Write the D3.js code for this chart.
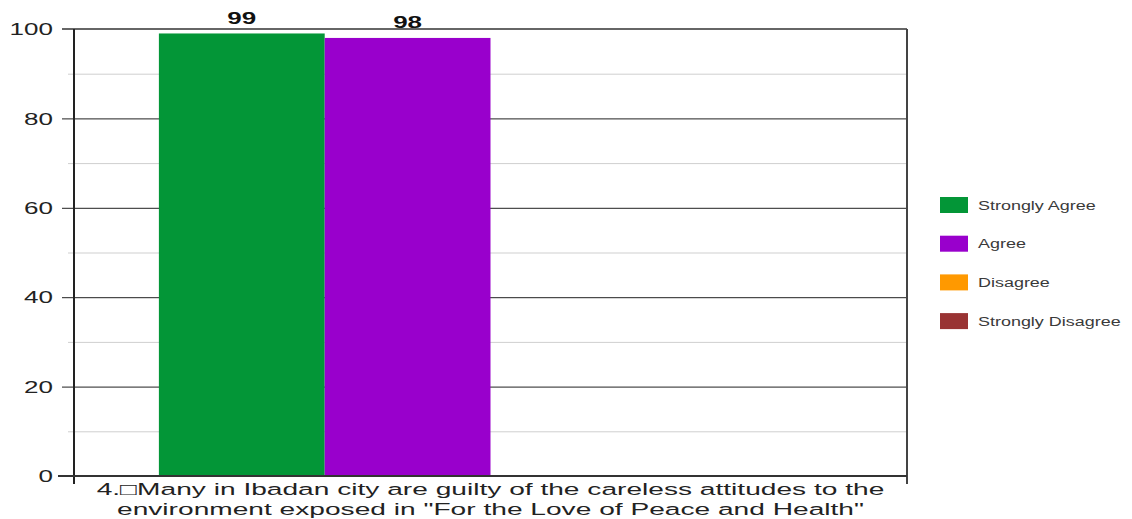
<!DOCTYPE html>
<html>
<head>
<meta charset="utf-8">
<script src="https://cdn.jsdelivr.net/npm/d3@7"></script>
<style>
  html, body { margin: 0; padding: 0; background: #fff; }
  svg { display: block; font-family: "Liberation Sans", Arial, sans-serif; }
</style>
</head>
<body>
<svg id="chart" width="1132" height="519"></svg>
<script>
// Survey responses for statement 4
const categories = ['4.\u25A1Many in Ibadan city are guilty of the careless attitudes to the|environment exposed in "For the Love of Peace and Health"'];
const seriesNames = ["Strongly Agree", "Agree", "Disagree", "Strongly Disagree"];
const seriesValues = [99, 98, 0, 0];
const seriesColors = ["#039637", "#9900cc", "#ff9900", "#993333"];
const majorTicks = [0, 20, 40, 60, 80, 100];
const minorTicks = [10, 30, 50, 70, 90];

const svg = d3.select("#chart");
const plot = { left: 74, right: 907, top: 29, bottom: 476 };

const y = d3.scaleLinear().domain([0, 100]).range([plot.bottom, plot.top]);
const x0 = d3.scaleBand().domain(categories).range([plot.left, plot.right]).paddingInner(0).paddingOuter(0.128);
const x1 = d3.scaleBand().domain(seriesNames).range([0, x0.bandwidth()]).padding(0);

// wide text: glyphs drawn with a horizontal stretch
function wideText(sel, x, yy, sx) {
  return sel.append("text").attr("transform", `translate(${x},${yy}) scale(${sx},1)`);
}

// minor grid lines
const g = svg.append("g");
g.selectAll(".minor").data(minorTicks).join("line")
  .attr("x1", plot.left - 6).attr("x2", plot.right)
  .attr("y1", d => y(d) + 0.5).attr("y2", d => y(d) + 0.5)
  .attr("stroke", "#cfcfcf").attr("stroke-width", 1);

// major grid lines
g.selectAll(".major").data(majorTicks.filter(d => d > 0 && d < 100)).join("line")
  .attr("x1", plot.left - 12).attr("x2", plot.right)
  .attr("y1", d => y(d) + 0.5).attr("y2", d => y(d) + 0.5)
  .attr("stroke", "#222").attr("stroke-width", 1);

// top border
g.append("line").attr("x1", plot.left - 12).attr("x2", plot.right)
  .attr("y1", y(100)).attr("y2", y(100))
  .attr("stroke", "#666").attr("stroke-width", 2);

// bars
const groups = svg.append("g").selectAll("g").data(categories).join("g")
  .attr("transform", d => `translate(${x0(d)},0)`);
groups.selectAll("rect").data(seriesNames.map((s, i) => ({ s, v: seriesValues[i], c: seriesColors[i] })))
  .join("rect")
  .attr("x", d => x1(d.s))
  .attr("width", x1.bandwidth())
  .attr("y", d => y(d.v))
  .attr("height", d => y(0) - y(d.v))
  .attr("fill", d => d.c);

// value labels
groups.each(function () {
  const grp = d3.select(this);
  seriesNames.forEach((s, i) => {
    if (seriesValues[i] <= 0) return;
    wideText(grp, x1(s) + x1.bandwidth() / 2, y(seriesValues[i]) - 9.5, 1.53)
      .attr("text-anchor", "middle")
      .attr("font-size", 17).attr("font-weight", "bold").attr("fill", "#111")
      .text(seriesValues[i]);
  });
});

// axes lines
svg.append("line").attr("x1", plot.left).attr("x2", plot.left)
  .attr("y1", plot.top).attr("y2", plot.bottom + 8)
  .attr("stroke", "#222").attr("stroke-width", 2);
svg.append("line").attr("x1", plot.right).attr("x2", plot.right)
  .attr("y1", plot.top).attr("y2", plot.bottom + 8)
  .attr("stroke", "#444").attr("stroke-width", 2);
svg.append("line").attr("x1", plot.left - 16).attr("x2", plot.right)
  .attr("y1", y(0)).attr("y2", y(0))
  .attr("stroke", "#333").attr("stroke-width", 2);

// y tick labels
const ya = svg.append("g");
majorTicks.forEach(t => {
  wideText(ya, 53, y(t) + 6.2, 1.53)
    .attr("text-anchor", "end")
    .attr("font-size", 17).attr("fill", "#222")
    .text(t);
});

// category label
categories.forEach(c => {
  const lines = c.split("|");
  lines.forEach((ln, i) => {
    wideText(svg, x0(c) + x0.bandwidth() / 2, 495 + i * 19.5, 1.655)
      .attr("text-anchor", "middle")
      .attr("font-size", 17).attr("fill", "#222")
      .text(ln);
  });
});

// legend
const legend = svg.append("g").attr("transform", "translate(940,197)");
seriesNames.forEach((s, i) => {
  const item = legend.append("g").attr("transform", `translate(0,${i * 38.7})`);
  item.append("rect").attr("width", 28).attr("height", 16).attr("fill", seriesColors[i]);
  wideText(item, 38, 12.7, 1.33)
    .attr("font-size", 13.5).attr("fill", "#3a3a3a").text(s);
});
</script>
</body>
</html>
